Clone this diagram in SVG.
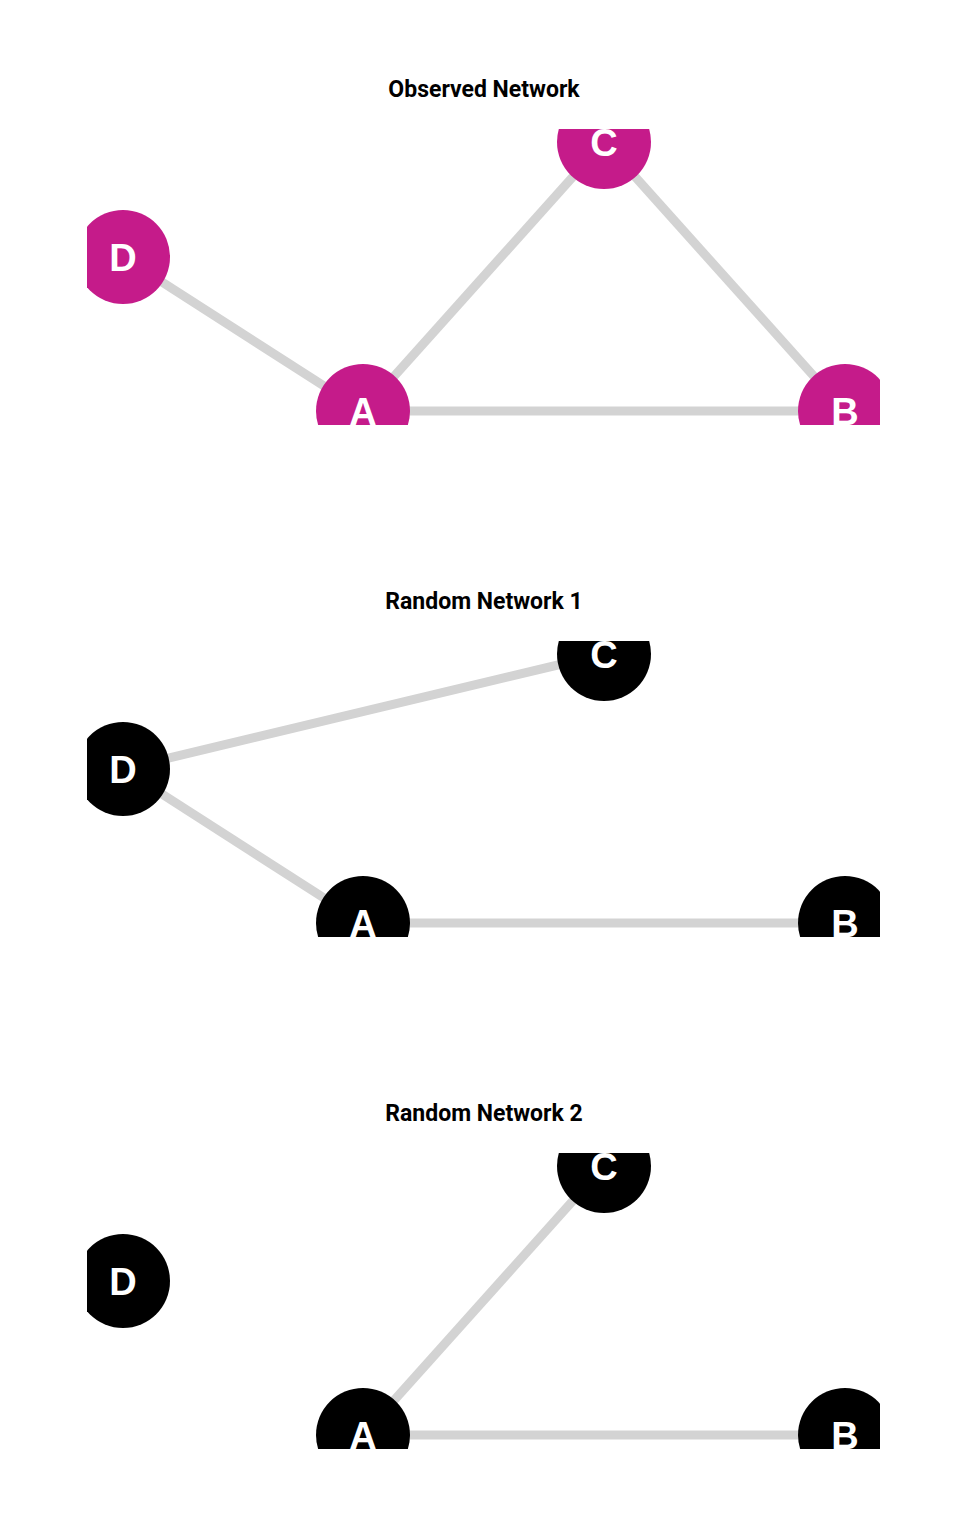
<svg xmlns="http://www.w3.org/2000/svg" width="960" height="1536" viewBox="0 0 960 1536">
<style>
.title{font-family:Roboto,"Liberation Sans",sans-serif;font-weight:bold;font-size:23px;fill:#000;text-anchor:middle}
.edge{stroke:#d3d3d3;stroke-width:9;stroke-linecap:butt;fill:none}
.obs circle{fill:#c51b8a}
.rnd circle{fill:#000}
.node text{font-family:"Liberation Sans",Arial,sans-serif;font-weight:bold;font-size:38px;fill:#fff;text-anchor:middle}
</style>
<defs>
<clipPath id="clip" clipPathUnits="userSpaceOnUse"><rect x="87" y="129" width="793" height="296"/></clipPath>
</defs>
<rect width="960" height="1536" fill="#fff"/>

<g id="panel-observed">
<text class="title" x="484" y="97">Observed Network</text>
<g clip-path="url(#clip)">
<g id="connectors-observed">
<line class="edge" x1="123" y1="257" x2="363" y2="411"/>
<line class="edge" x1="363" y1="411" x2="604" y2="142"/>
<line class="edge" x1="604" y1="142" x2="845" y2="411"/>
<line class="edge" x1="363" y1="411" x2="845" y2="411"/>
</g>
<g id="obs-D" class="node obs"><circle cx="123" cy="257" r="47"/><text x="123" y="270.5">D</text></g>
<g id="obs-C" class="node obs"><circle cx="604" cy="142" r="47"/><text x="604" y="155.5">C</text></g>
<g id="obs-A" class="node obs"><circle cx="363" cy="411" r="47"/><text x="363" y="424.5">A</text></g>
<g id="obs-B" class="node obs"><circle cx="845" cy="411" r="47"/><text x="845" y="424.5">B</text></g>
</g>
</g>

<g id="panel-random1" transform="translate(0,512)">
<text class="title" x="484" y="97">Random Network 1</text>
<g clip-path="url(#clip)">
<g id="connectors-random1">
<line class="edge" x1="123" y1="257" x2="604" y2="142"/>
<line class="edge" x1="123" y1="257" x2="363" y2="411"/>
<line class="edge" x1="363" y1="411" x2="845" y2="411"/>
</g>
<g id="r1-D" class="node rnd"><circle cx="123" cy="257" r="47"/><text x="123" y="270.5">D</text></g>
<g id="r1-C" class="node rnd"><circle cx="604" cy="142" r="47"/><text x="604" y="155.5">C</text></g>
<g id="r1-A" class="node rnd"><circle cx="363" cy="411" r="47"/><text x="363" y="424.5">A</text></g>
<g id="r1-B" class="node rnd"><circle cx="845" cy="411" r="47"/><text x="845" y="424.5">B</text></g>
</g>
</g>

<g id="panel-random2" transform="translate(0,1024)">
<text class="title" x="484" y="97">Random Network 2</text>
<g clip-path="url(#clip)">
<g id="connectors-random2">
<line class="edge" x1="363" y1="411" x2="604" y2="142"/>
<line class="edge" x1="363" y1="411" x2="845" y2="411"/>
</g>
<g id="r2-D" class="node rnd"><circle cx="123" cy="257" r="47"/><text x="123" y="270.5">D</text></g>
<g id="r2-C" class="node rnd"><circle cx="604" cy="142" r="47"/><text x="604" y="155.5">C</text></g>
<g id="r2-A" class="node rnd"><circle cx="363" cy="411" r="47"/><text x="363" y="424.5">A</text></g>
<g id="r2-B" class="node rnd"><circle cx="845" cy="411" r="47"/><text x="845" y="424.5">B</text></g>
</g>
</g>
</svg>
